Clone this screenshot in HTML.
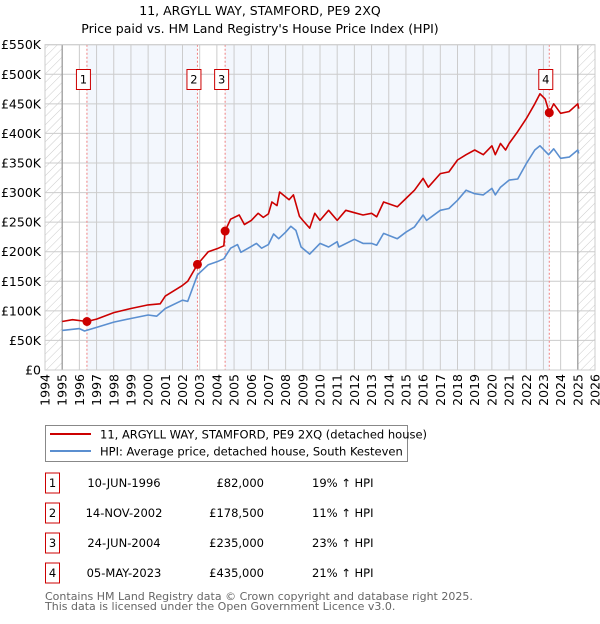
<!DOCTYPE html>
<html><head><meta charset="utf-8"><style>
body{margin:0;background:#fff;font-family:"DejaVu Sans","Liberation Sans",sans-serif;}
svg text{font-family:"DejaVu Sans","Liberation Sans",sans-serif;}
</style></head><body>
<svg id="c" width="600" height="620" xmlns="http://www.w3.org/2000/svg">
<defs><pattern id="hatch" width="6" height="6" patternUnits="userSpaceOnUse" patternTransform="rotate(45)"><line x1="0" y1="0" x2="0" y2="6" stroke="#ccc" stroke-width="1"/></pattern></defs>
<text x="260" y="15" text-anchor="middle" font-size="12.5" fill="#000">11, ARGYLL WAY, STAMFORD, PE9 2XQ</text>
<text x="260" y="33" text-anchor="middle" font-size="12.5" fill="#000">Price paid vs. HM Land Registry's House Price Index (HPI)</text>
<g id="plot"></g>
<g>
<rect x="45.5" y="425.5" width="362" height="36" fill="#fff" stroke="#888"/>
<line x1="50" y1="434" x2="91" y2="434" stroke="#cc0000" stroke-width="2"/>
<text x="100" y="438.5" font-size="11.5">11, ARGYLL WAY, STAMFORD, PE9 2XQ (detached house)</text>
<line x1="50" y1="451" x2="91" y2="451" stroke="#5b8fd0" stroke-width="2"/>
<text x="100" y="455.5" font-size="11.5">HPI: Average price, detached house, South Kesteven</text>
</g>
<g id="table" font-size="11.5"></g>
<text x="45" y="600" font-size="11" fill="#666">Contains HM Land Registry data © Crown copyright and database right 2025.</text>
<text x="45" y="610" font-size="11" fill="#666">This data is licensed under the Open Government Licence v3.0.</text>
</svg>
<script>
const hpiYears=[1995,1996,1996.3,1997,1998,1999,2000,2000.5,2001,2002,2002.3,2002.87,2003.5,2004,2004.4,2004.8,2005.2,2005.4,2006,2006.3,2006.6,2007,2007.3,2007.6,2008,2008.3,2008.6,2008.9,2009.4,2010,2010.5,2011,2011.1,2012,2012.5,2013,2013.3,2013.7,2014.5,2015,2015.5,2016,2016.2,2017,2017.5,2018,2018.5,2019,2019.5,2020,2020.2,2020.5,2021,2021.5,2022,2022.5,2022.8,2023.3,2023.6,2024,2024.5,2025,2025.05];
const hpiValues=[67,70,66,72,81,87,93,91,104,118,116,161,178,183,188,206,212,199,209,214,206,212,230,222,233,243,236,208,196,214,208,217,208,221,214,214,211,231,222,233,242,262,253,270,273,287,304,298,296,307,296,309,321,323,349,372,379,364,374,358,360,372,366];
const priceYears=[1995,1995.6,1996.44,1997,1998,1999,2000,2000.7,2001,2002,2002.3,2002.87,2003.5,2004,2004.4,2004.48,2004.8,2005.3,2005.6,2006,2006.4,2006.7,2007,2007.2,2007.5,2007.65,2008.2,2008.45,2008.8,2009,2009.4,2009.7,2010,2010.5,2011,2011.5,2012,2012.5,2013,2013.3,2013.7,2014.5,2015,2015.5,2016,2016.3,2017,2017.5,2018,2018.5,2019,2019.5,2020,2020.2,2020.5,2020.8,2021,2021.5,2022,2022.5,2022.8,2023.1,2023.34,2023.6,2024,2024.5,2025,2025.05];
const priceValues=[82,85,82,86,97,104,110,112,125,143,150,178.5,200,205,210,235,255,262,246,253,265,258,264,284,278,301,288,296,260,253,240,265,253,270,253,270,266,262,265,259,284,276,290,304,324,309,332,335,355,364,372,364,379,364,383,372,383,403,425,450,467,458,435,450,434,437,450,442];
const saleYears=[1996.44,2002.87,2004.48,2023.34];
const salePrices=[82,178.5,235,435];
const saleLabels=["1","2","3","4"];
const saleDates=["10-JUN-1996","14-NOV-2002","24-JUN-2004","05-MAY-2023"];
const salePriceText=["£82,000","£178,500","£235,000","£435,000"];
const saleHpiText=["19% ↑ HPI","11% ↑ HPI","23% ↑ HPI","21% ↑ HPI"];
const yTicks=[0,50,100,150,200,250,300,350,400,450,500,550];
const yTickLabels=["£0","£50K","£100K","£150K","£200K","£250K","£300K","£350K","£400K","£450K","£500K","£550K"];
const xTicks=[1994,1995,1996,1997,1998,1999,2000,2001,2002,2003,2004,2005,2006,2007,2008,2009,2010,2011,2012,2013,2014,2015,2016,2017,2018,2019,2020,2021,2022,2023,2024,2025,2026];

const NS="http://www.w3.org/2000/svg";
const L=45,R=595,T=44.7,B=370;
const X=y=>L+(y-1994)*(R-L)/32;
const Y=v=>B-v*(B-T)/550;
const g=document.getElementById('plot');
function mk(tag,attrs,parent){const e=document.createElementNS(NS,tag);for(const k in attrs)e.setAttribute(k,attrs[k]);(parent||g).appendChild(e);return e;}
// background
let bg=mk('rect',{x:L,y:T,width:R-L,height:B-T,fill:'#fff'});


const bounds=[1995].concat(saleYears).concat([2025]);
for(let i=0;i<bounds.length-1;i++){
  if(i%2===1){const r=mk('rect',{x:X(bounds[i]),y:T,width:X(bounds[i+1])-X(bounds[i]),height:B-T,fill:'#eef3fc',opacity:0.7});
  
  }
}
let h1=mk('rect',{x:L,y:T,width:X(1995)-L,height:B-T,fill:'url(#hatch)'});


let h2=mk('rect',{x:X(2025),y:T,width:R-X(2025),height:B-T,fill:'url(#hatch)'});


// grid
yTicks.forEach((v,i)=>{
  const l=mk('line',{x1:L,x2:R,y1:Y(v),y2:Y(v),stroke:'#ccc','stroke-width':1});
  
  
  const t=mk('text',{x:L-4,y:Y(v)+4.5,'text-anchor':'end','font-size':12.5,fill:'#000'});
  t.textContent=yTickLabels[i];
  
  
});
xTicks.forEach(yr=>{
  const l=mk('line',{x1:X(yr),x2:X(yr),y1:T,y2:B,stroke:'#ccc','stroke-width':1});
  
  
  const t=mk('text',{x:0,y:0,'text-anchor':'end','font-size':12.5,fill:'#000',transform:`translate(${X(yr)+4.5},${B+4}) rotate(-90)`});
  t.textContent=yr;
  
  
});
[1995,2025].forEach(yr=>{const l=mk('line',{x1:X(yr),x2:X(yr),y1:T,y2:B,stroke:'#999','stroke-width':1.2});

});
// sale lines and markers
saleYears.forEach((yr,i)=>{
  const l=mk('line',{x1:X(yr),x2:X(yr),y1:T,y2:B,stroke:'#f08080','stroke-width':1,'stroke-dasharray':'2,2'});
  
  
});
function path(xs,vs,color,name){
  const d=xs.map((x,i)=>(i?'L':'M')+X(x).toFixed(1)+','+Y(vs[i]).toFixed(1)).join(' ');
  const p=mk('path',{d:d,fill:'none',stroke:color,'stroke-width':1.6,'stroke-linejoin':'round'});
  
  
}
path(hpiYears,hpiValues,'#5b8fd0','hpi-line');
path(priceYears,priceValues,'#cc0000','price-line');
saleYears.forEach((yr,i)=>{
  const c=mk('circle',{cx:X(yr),cy:Y(salePrices[i]),r:4.5,fill:'#cc0000'});
  
  
  const bx=mk('rect',{x:X(yr)-10.5,y:69.5,width:14,height:20,fill:'#fff',stroke:'#cc0000'});
  
  
  const t=mk('text',{x:X(yr)-3.5,y:83.5,'text-anchor':'middle','font-size':11.5});
  t.textContent=saleLabels[i];
  
  
});
const border=mk('rect',{x:L,y:T,width:R-L,height:B-T,fill:'none',stroke:'#ccc'});


// table
const tb=document.getElementById('table');
saleLabels.forEach((lab,i)=>{
  const cy=483+i*30;
  const b=mk('rect',{x:45.5,y:cy-10,width:14,height:20,fill:'#fff',stroke:'#cc0000'},tb);
  
  
  const t0=mk('text',{x:52.5,y:cy+4,'text-anchor':'middle'},tb);t0.textContent=lab;
  
  
  const t1=mk('text',{x:124,y:cy+4,'text-anchor':'middle'},tb);t1.textContent=saleDates[i];
  
  
  const t2=mk('text',{x:264,y:cy+4,'text-anchor':'end'},tb);t2.textContent=salePriceText[i];
  
  
  const t3=mk('text',{x:312,y:cy+4},tb);t3.textContent=saleHpiText[i];
  
  
});
</script>
</body></html>
